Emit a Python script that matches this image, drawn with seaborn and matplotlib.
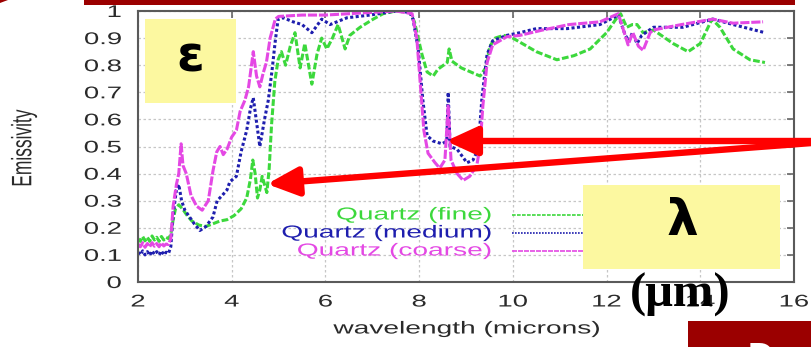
import matplotlib
matplotlib.use("Agg")
import matplotlib.pyplot as plt
import seaborn as sns
import numpy as np
import pandas as pd
from matplotlib.patheffects import AbstractPathEffect
from matplotlib.transforms import Affine2D
from matplotlib.patches import Rectangle, FancyArrowPatch, Polygon
from matplotlib.lines import Line2D

# ---------------- data ----------------
fine_x = [2.00, 2.05, 2.10, 2.15, 2.20, 2.25, 2.30, 2.35, 2.40, 2.45, 2.50, 2.55, 2.60, 2.65,
          2.70, 2.75, 2.80, 2.87, 2.95, 3.05, 3.15, 3.30, 3.45, 3.60, 3.75, 3.90, 4.05, 4.20,
          4.32, 4.40, 4.45, 4.50, 4.55, 4.60, 4.65, 4.70, 4.75, 4.80, 4.85, 4.92, 4.99, 5.06,
          5.15, 5.25, 5.35, 5.46, 5.56, 5.71, 5.82, 5.92, 6.03, 6.15, 6.27, 6.42, 6.52, 6.74,
          7.02, 7.23, 7.50, 7.80, 7.90, 7.98, 8.06, 8.17, 8.30, 8.40, 8.52, 8.60, 8.64, 8.70,
          8.90, 9.10, 9.30, 9.42, 9.51, 9.62, 9.80, 9.95, 10.10, 10.50, 10.94, 11.30, 11.65,
          12.00, 12.20, 12.30, 12.43, 12.55, 12.65, 12.78, 13.00, 13.42, 13.74, 14.00, 14.25,
          14.42, 14.70, 15.06, 15.38]
fine_y = [.160, .150, .168, .152, .165, .150, .170, .155, .165, .150, .168, .155, .165, .160,
          .175, .230, .270, .285, .270, .245, .225, .210, .205, .215, .225, .230, .245, .270,
          .310, .380, .450, .400, .310, .340, .390, .360, .330, .420, .580, .740, .820, .850,
          .800, .870, .920, .790, .880, .730, .840, .900, .860, .900, .950, .860, .910, .940,
          .970, .990, 1.000, .995, .960, .900, .840, .775, .760, .785, .800, .810, .860, .815,
          .790, .775, .760, .790, .870, .900, .910, .905, .890, .850, .820, .835, .860,
          .920, .970, .990, .940, .950, .950, .920, .930, .880, .850, .880, .970,
          .940, .860, .820, .810]

medium_x = [2.00, 2.05, 2.10, 2.15, 2.20, 2.25, 2.30, 2.35, 2.40, 2.45, 2.50, 2.55, 2.60, 2.65,
            2.70, 2.75, 2.82, 2.87, 2.93, 3.00, 3.10, 3.20, 3.32, 3.45, 3.60, 3.69, 3.80, 3.90,
            3.96, 4.10, 4.20, 4.32, 4.40, 4.46, 4.53, 4.60, 4.70, 4.78, 4.86, 4.93, 4.99, 5.10,
            5.31, 5.50, 5.71, 5.92, 6.10, 6.46, 6.95, 7.50, 7.80, 7.87, 7.98, 8.08, 8.17, 8.30,
            8.49, 8.59, 8.62, 8.66, 8.81, 9.02, 9.15, 9.26, 9.34, 9.45, 9.57, 9.87, 10.15, 10.50,
            11.16, 11.86, 12.25, 12.40, 12.48, 12.55, 12.65, 12.75, 13.00, 13.63, 14.27, 14.70,
            15.38]
medium_y = [.110, .100, .115, .100, .112, .098, .115, .102, .112, .100, .115, .100, .110, .105,
            .130, .250, .340, .360, .300, .265, .240, .215, .190, .205, .240, .300, .320, .340,
            .370, .390, .480, .560, .640, .680, .590, .500, .600, .670, .780, .890, .970, .975,
            .960, .950, .920, .970, .950, .975, .985, 1.000, .995, .970, .860, .670, .540, .520,
            .510, .520, .700, .500, .490, .440, .450, .490, .680, .840, .890, .910, .920, .935,
            .935, .950, .985, .910, .890, .920, .880, .910, .940, .940, .970, .950,
            .920]

coarse_x = [2.00, 2.05, 2.10, 2.15, 2.20, 2.25, 2.30, 2.35, 2.40, 2.45, 2.50, 2.55, 2.60, 2.65,
            2.70, 2.75, 2.82, 2.87, 2.92, 2.96, 3.03, 3.13, 3.25, 3.37, 3.50, 3.60, 3.68, 3.75,
            3.82, 3.90, 4.00, 4.10, 4.18, 4.28, 4.36, 4.43, 4.46, 4.53, 4.60, 4.67, 4.74, 4.82,
            4.93, 5.00, 5.50, 6.00, 6.50, 7.00, 7.50, 7.85, 7.95, 8.03, 8.10, 8.19, 8.34, 8.44,
            8.55, 8.62, 8.68, 8.81, 8.94, 9.08, 9.23, 9.30, 9.36, 9.45, 9.57, 9.87, 10.15, 10.64,
            11.20, 11.86, 12.25, 12.46, 12.56, 12.68, 12.78, 12.93, 13.00, 13.60, 14.27, 14.70,
            15.34]
coarse_y = [.140, .130, .145, .128, .142, .130, .145, .132, .142, .130, .145, .133, .140, .138,
            .160, .280, .360, .400, .510, .430, .400, .320, .280, .265, .300, .410, .480, .500,
            .470, .490, .535, .560, .630, .670, .720, .810, .850, .760, .720, .770, .810, .900,
            .970, .980, .985, .985, .990, .995, 1.000, .990, .900, .720, .560, .475, .440, .420,
            .450, .650, .450, .400, .375, .390, .430, .500, .650, .810, .875, .905, .910, .930,
            .950, .960, .990, .875, .920, .870, .855, .920, .930, .950, .970, .955,
            .960]

series_labels = ["Quartz (fine)", "Quartz (medium)", "Quartz (coarse)"]
x_ticks = [2, 4, 6, 8, 10, 12, 14, 16]
y_ticks = [0, 0.1, 0.2, 0.3, 0.4, 0.5, 0.6, 0.7, 0.8, 0.9, 1]
y_tick_labels = ["0", "0.1", "0.2", "0.3", "0.4", "0.5", "0.6", "0.7", "0.8", "0.9", "1"]

# ---------------- style ----------------
W, H = 812, 347
sns.set_style("white")
plt.rcParams['font.family'] = ['Liberation Sans', 'DejaVu Sans']

GREEN = '#3cd83c'
BLUE = '#1e1eae'
MAGENTA = '#e448e4'
DARKRED = '#9b0000'
YELLOW = '#fcf8a0'
TXT = '#2a2a2a'


class HStretch(AbstractPathEffect):
    """Horizontally widen text (the reference image is stretched)."""
    def __init__(self, sx=1.65, anchor='center'):
        super().__init__()
        self.sx = sx
        self.anchor = anchor

    def draw_path(self, renderer, gc, tpath, affine, rgbFace=None):
        ext = tpath.get_extents(affine)
        if self.anchor == 'left':
            a = ext.x0
        elif self.anchor == 'right':
            a = ext.x1
        else:
            a = 0.5 * (ext.x0 + ext.x1)
        t = affine + Affine2D().translate(-a, 0).scale(self.sx, 1).translate(a, 0)
        renderer.draw_path(gc, tpath, t, rgbFace)


def fx(px):
    return px / W


def fy(py):
    return 1 - py / H


fig = plt.figure(figsize=(W / 100, H / 100), dpi=100)
ax = fig.add_axes([fx(138), fy(282), (794 - 138) / W, (282 - 11) / H])

for xs, ys, col, ls in [(fine_x, fine_y, GREEN, (0, (2.2, 0.8))),
                        (medium_x, medium_y, BLUE, (0, (1.0, 0.8))),
                        (coarse_x, coarse_y, MAGENTA, (0, (3.0, 0.6)))]:
    df = pd.DataFrame({"wl": xs, "em": ys})
    sns.lineplot(data=df, x="wl", y="em", ax=ax, color=col, linestyle=ls,
                 linewidth=2.2, estimator=None, sort=False)

ax.set_xlim(2, 16)
ax.set_ylim(0, 1)
ax.set_xticks(x_ticks)
ax.set_yticks(y_ticks)
ax.set_yticklabels(y_tick_labels)
ax.set_xlabel("")
ax.set_ylabel("")
ax.grid(True, color='#c6c6c6', linestyle=(0, (2, 2)), linewidth=0.9)
for s in ax.spines.values():
    s.set_color('#5a5a5a')
    s.set_linewidth(1.5)
    s.set_visible(True)
ax.tick_params(direction='in', length=5, width=1.1, color='#5a5a5a',
               top=True, right=True, labelsize=12.2, labelcolor=TXT)
ax.tick_params(axis='y', pad=12)
ax.tick_params(axis='x', pad=9)
for t in ax.get_yticklabels():
    t.set_path_effects([HStretch(1.62, 'right')])
for t in ax.get_xticklabels():
    t.set_path_effects([HStretch(1.62, 'center')])

# axis titles
fig.text(fx(467), fy(329), "wavelength (microns)", ha='center', va='center',
         fontsize=12.5, color=TXT, path_effects=[HStretch(1.62, 'center')])
fig.text(fx(24), fy(148), "Emissivity", ha='center', va='center', rotation=90,
         fontsize=12.5, color=TXT, path_effects=[HStretch(1.62, 'center')])

# legend (gnuplot style: right aligned text, sample to the right)
leg_rows = [215, 233, 251]
leg_cols = [GREEN, BLUE, MAGENTA]
leg_ls = [(0, (2.2, 0.8)), (0, (1.0, 0.8)), (0, (3.0, 0.6))]
for lab, py, col, ls in zip(series_labels, leg_rows, leg_cols, leg_ls):
    fig.text(fx(492), fy(py), lab, ha='right', va='center', fontsize=12.5, color=col,
             path_effects=[HStretch(1.62, 'right')])
    fig.add_artist(Line2D([fx(512), fx(600)], [fy(py), fy(py)], color=col,
                          linestyle=ls, linewidth=1.2))

# ---------------- slide overlays ----------------
def rect(x0, y0, x1, y1, color, z=5):
    fig.add_artist(Rectangle((fx(x0), fy(y1)), (x1 - x0) / W, (y1 - y0) / H,
                             transform=fig.transFigure, facecolor=color,
                             edgecolor='none', zorder=z))

rect(84, 0, 795, 5, DARKRED)
fig.add_artist(Polygon([(fx(0), fy(0)), (fx(8), fy(0)), (fx(0), fy(3))],
                       closed=True, transform=fig.transFigure, facecolor=DARKRED,
                       edgecolor='none', zorder=5))
rect(688, 321, 812, 347, DARKRED)
fig.text(fx(761), fy(342), "D", ha='center', va='top', fontsize=26, color='white',
         fontweight='bold', zorder=6)

# epsilon box
rect(145, 19, 236, 103, YELLOW, z=6)
fig.text(fx(190), fy(58), "ε", ha='center', va='center', fontsize=36,
         fontweight='bold', color='black', family='DejaVu Sans', zorder=7)

# red arrows
for (x0, y0), (x1, y1) in [((812, 141), (446, 141)), ((812, 143), (267, 184))]:
    fig.add_artist(FancyArrowPatch((fx(x0), fy(y0)), (fx(x1), fy(y1)),
                                   transform=fig.transFigure,
                                   arrowstyle='-|>,head_length=1.35,head_width=0.62',
                                   mutation_scale=14, linewidth=4.6, color='#ff0000',
                                   shrinkA=0, shrinkB=0, zorder=8))

# lambda box (drawn over legend samples)
rect(583, 185, 780, 269, YELLOW, z=9)
fig.text(fx(682), fy(221), "λ", ha='center', va='center', fontsize=36,
         fontweight='bold', color='black', family='DejaVu Sans', zorder=10)
fig.text(fx(680), fy(295), "(μm)", ha='center', va='center', fontsize=35,
         fontweight='bold', color='black', family='Liberation Serif', zorder=10)

fig.savefig("out.png", dpi=100)
